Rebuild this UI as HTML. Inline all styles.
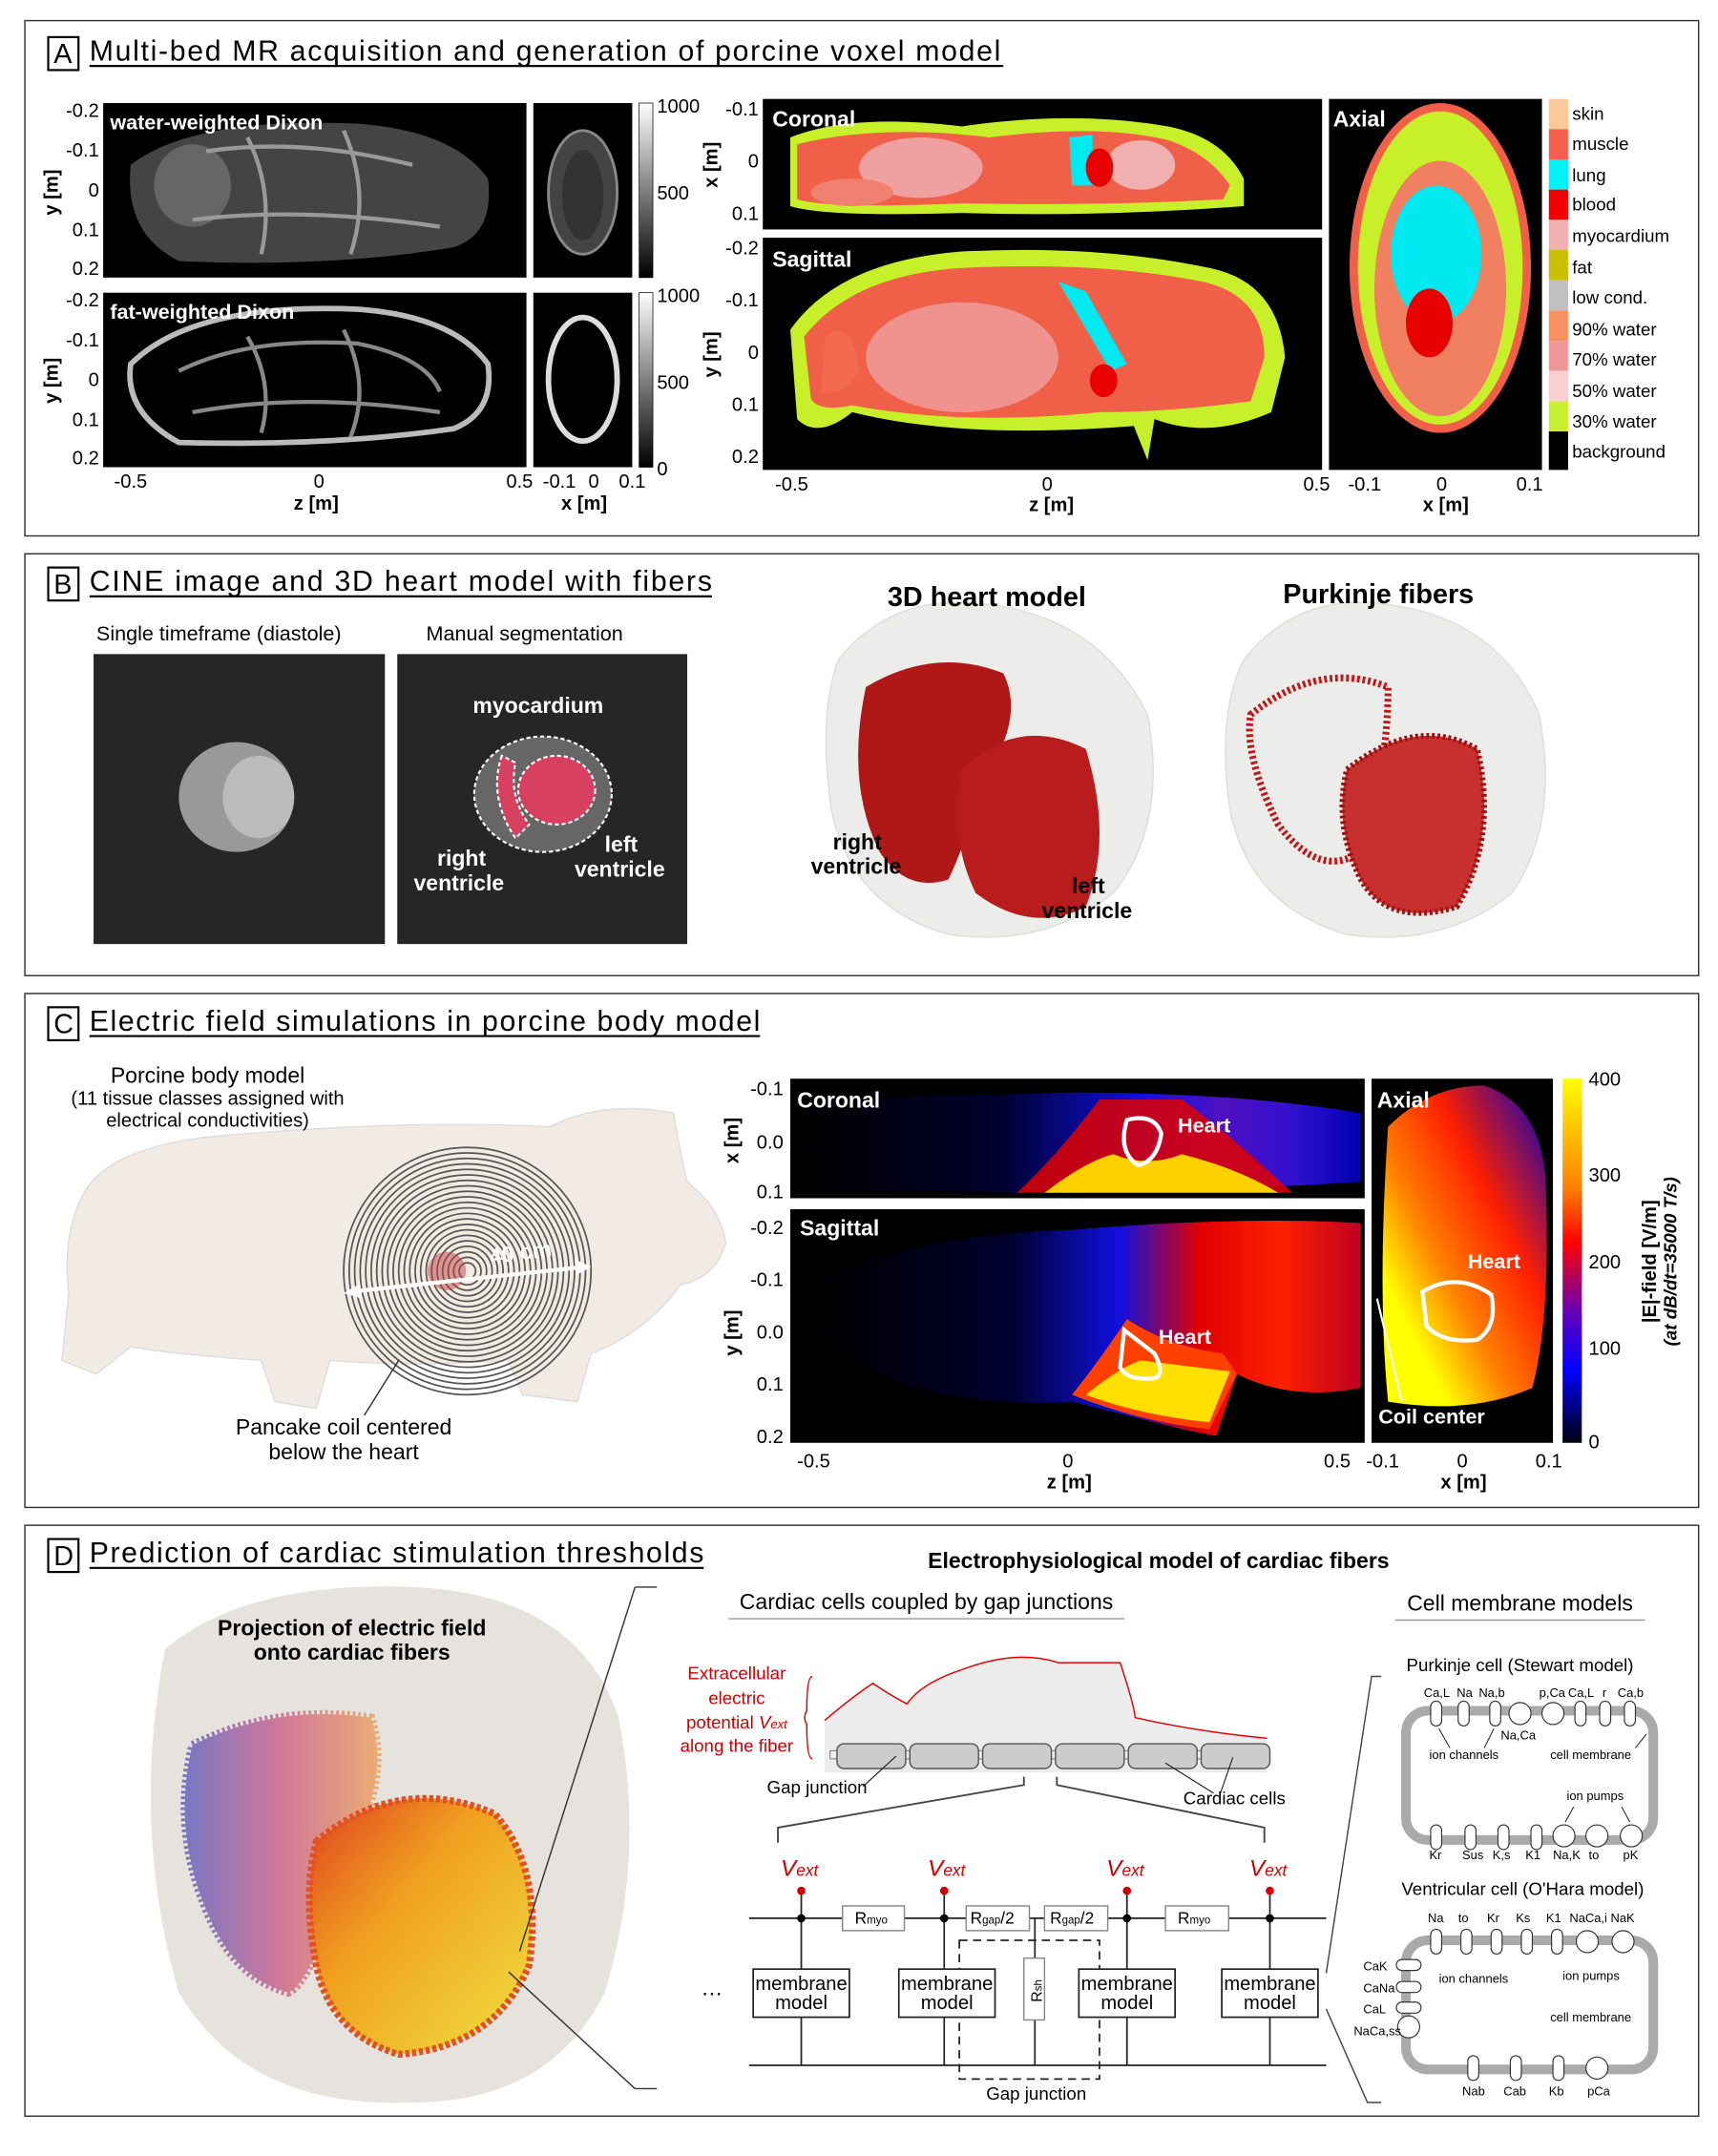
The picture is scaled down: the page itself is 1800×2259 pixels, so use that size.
<!DOCTYPE html>
<html><head><meta charset="utf-8"><style>
html,body{margin:0;padding:0;background:#fff}
svg{display:block}
text{font-family:"Liberation Sans",Arial,sans-serif}
</style></head><body>
<svg width="1800" height="2259" viewBox="0 0 1250 1569" xmlns="http://www.w3.org/2000/svg">
<defs>
<linearGradient id="gs" x1="0" y1="0" x2="0" y2="1"><stop offset="0" stop-color="#fff"/><stop offset="1" stop-color="#000"/></linearGradient>
<linearGradient id="hot" x1="0" y1="0" x2="0" y2="1"><stop offset="0" stop-color="#ffff00"/><stop offset="0.3" stop-color="#ff8000"/><stop offset="0.45" stop-color="#ff0000"/><stop offset="0.65" stop-color="#6000c0"/><stop offset="0.8" stop-color="#0000ff"/><stop offset="1" stop-color="#000010"/></linearGradient>
<linearGradient id="fieldH" x1="0" y1="0" x2="1" y2="0"><stop offset="0" stop-color="#000"/><stop offset="0.35" stop-color="#000030"/><stop offset="0.6" stop-color="#1010e0"/><stop offset="0.75" stop-color="#5010c0"/><stop offset="0.88" stop-color="#3010d0"/><stop offset="1" stop-color="#0000b0"/></linearGradient>
<linearGradient id="fieldS" x1="0" y1="0" x2="1" y2="0"><stop offset="0" stop-color="#000"/><stop offset="0.35" stop-color="#000030"/><stop offset="0.55" stop-color="#1010e0"/><stop offset="0.7" stop-color="#e00000"/><stop offset="0.85" stop-color="#ff2000"/><stop offset="1" stop-color="#c00020"/></linearGradient>
<linearGradient id="ax" x1="1" y1="0" x2="0" y2="1"><stop offset="0" stop-color="#0000c0"/><stop offset="0.35" stop-color="#ff2000"/><stop offset="0.6" stop-color="#ff8000"/><stop offset="0.8" stop-color="#ffff00"/></linearGradient>
<linearGradient id="fibL" x1="0" y1="0" x2="1" y2="0"><stop offset="0" stop-color="#2020b0"/><stop offset="0.5" stop-color="#c02060"/><stop offset="1" stop-color="#f08020"/></linearGradient>
<linearGradient id="fibR" x1="0" y1="0" x2="1" y2="1"><stop offset="0" stop-color="#e04020"/><stop offset="0.4" stop-color="#f0a020"/><stop offset="1" stop-color="#f0e040"/></linearGradient>
</defs>

<g fill="none" stroke="#333" stroke-width="1">
<rect x="18" y="15" width="1218" height="375"/>
<rect x="18" y="403" width="1218" height="307"/>
<rect x="18" y="723" width="1218" height="374"/>
<rect x="18" y="1110" width="1218" height="430"/>
</g>

<!-- ===== A ===== -->
<rect x="35" y="27" width="22" height="24" fill="none" stroke="#000" stroke-width="1.5"/>
<text x="39" y="46" font-size="20">A</text>
<text x="65" y="44" font-size="21" textLength="663">Multi-bed MR acquisition and generation of porcine voxel model</text>
<line x1="65" y1="48" x2="730" y2="48" stroke="#000" stroke-width="1.5"/>

<rect x="75" y="75" width="308" height="127" fill="#000"/>
<path d="M95 120 Q140 85 260 90 Q330 95 355 130 Q360 170 330 180 Q240 195 130 190 Q90 170 95 120 Z" fill="#444"/>
<ellipse cx="140" cy="135" rx="28" ry="30" fill="#666"/>
<path d="M150 110 Q220 100 300 120 M140 160 Q220 150 320 165 M180 100 Q200 140 190 185 M250 95 Q270 140 255 185" stroke="#999" stroke-width="3" fill="none"/>
<rect x="388" y="75" width="72" height="127" fill="#000"/>
<ellipse cx="424" cy="140" rx="25" ry="45" fill="#444" stroke="#888" stroke-width="2"/>
<ellipse cx="424" cy="142" rx="15" ry="33" fill="#333"/>
<rect x="465" y="75" width="10" height="127" fill="url(#gs)" stroke="#000" stroke-width="0.5"/>
<rect x="75" y="213" width="308" height="127" fill="#000"/>
<path d="M95 265 Q140 220 260 225 Q330 230 355 265 Q360 300 330 312 Q240 325 130 322 Q90 300 95 265 Z" fill="none" stroke="#bbb" stroke-width="4"/>
<path d="M130 270 Q180 245 260 250 Q310 260 320 285 M140 300 Q220 285 320 300 M180 245 Q200 280 190 315 M250 240 Q270 280 255 318" stroke="#888" stroke-width="3" fill="none"/>
<rect x="388" y="213" width="72" height="127" fill="#000"/>
<ellipse cx="424" cy="276" rx="25" ry="45" fill="none" stroke="#ddd" stroke-width="4"/>
<rect x="465" y="213" width="10" height="127" fill="url(#gs)" stroke="#000" stroke-width="0.5"/>
<g font-size="15" fill="#fff" font-weight="bold"><text x="80" y="94">water-weighted Dixon</text><text x="80" y="232">fat-weighted Dixon</text></g>
<g font-size="14" text-anchor="end">
<text x="72" y="85">-0.2</text><text x="72" y="114">-0.1</text><text x="72" y="143">0</text><text x="72" y="172">0.1</text><text x="72" y="200">0.2</text>
<text x="72" y="223">-0.2</text><text x="72" y="252">-0.1</text><text x="72" y="281">0</text><text x="72" y="310">0.1</text><text x="72" y="338">0.2</text>
</g>
<g font-size="14"><text x="478" y="82">1000</text><text x="478" y="145">500</text><text x="478" y="220">1000</text><text x="478" y="283">500</text><text x="478" y="346">0</text></g>
<text x="42" y="140" font-size="14" font-weight="bold" transform="rotate(-90 42 140)" text-anchor="middle">y [m]</text>
<text x="42" y="277" font-size="14" font-weight="bold" transform="rotate(-90 42 277)" text-anchor="middle">y [m]</text>
<g font-size="14" text-anchor="middle"><text x="95" y="355">-0.5</text><text x="232" y="355">0</text><text x="378" y="355">0.5</text><text x="407" y="355">-0.1</text><text x="432" y="355">0</text><text x="460" y="355">0.1</text></g>
<g font-size="14" font-weight="bold" text-anchor="middle"><text x="230" y="371">z [m]</text><text x="425" y="371">x [m]</text></g>

<rect x="555" y="72" width="407" height="95" fill="#000"/>
<path d="M575 100 Q620 82 700 92 Q780 80 850 92 Q890 100 905 130 L905 150 Q800 158 700 155 Q600 158 575 150 Z" fill="#c8f02a"/>
<path d="M580 105 Q640 90 720 100 Q800 90 850 102 Q880 112 895 135 L890 145 Q800 150 700 148 Q600 152 580 145 Z" fill="#f06048"/>
<ellipse cx="670" cy="122" rx="45" ry="22" fill="#f0a0a0"/>
<ellipse cx="620" cy="140" rx="30" ry="10" fill="#f08070"/>
<ellipse cx="830" cy="120" rx="25" ry="18" fill="#f0b0b0"/>
<path d="M778 100 L795 98 L795 135 L780 135 Z" fill="#00e8f0"/>
<ellipse cx="800" cy="122" rx="10" ry="14" fill="#e80000"/>
<text x="562" y="92" font-size="16" font-weight="bold" fill="#fff">Coronal</text>
<rect x="555" y="173" width="407" height="169" fill="#000"/>
<path d="M575 240 Q610 190 700 183 Q800 178 880 195 Q930 205 935 260 L925 300 Q880 320 840 305 L835 335 L825 310 Q700 320 620 300 Q595 320 580 305 Z" fill="#c8f02a"/>
<path d="M585 245 Q620 200 700 195 Q800 190 875 205 Q920 215 920 260 L910 292 Q850 300 800 300 Q700 310 620 295 Q595 300 590 290 Z" fill="#f06048"/>
<ellipse cx="700" cy="260" rx="70" ry="40" fill="#f0a0a0" opacity="0.8"/>
<path d="M600 245 Q620 230 625 270 Q615 290 598 285 Z" fill="#f46a50"/>
<path d="M770 205 L790 212 L820 265 L808 270 Z" fill="#00e8f0"/>
<ellipse cx="803" cy="277" rx="10" ry="12" fill="#e80000"/>
<text x="562" y="194" font-size="16" font-weight="bold" fill="#fff">Sagittal</text>
<rect x="967" y="72" width="155" height="270" fill="#000"/>
<ellipse cx="1048" cy="195" rx="66" ry="120" fill="#f06048"/>
<ellipse cx="1048" cy="195" rx="60" ry="114" fill="#c8f02a"/>
<ellipse cx="1048" cy="210" rx="48" ry="93" fill="#f08060"/>
<ellipse cx="1045" cy="185" rx="33" ry="50" fill="#00e8f0"/>
<ellipse cx="1040" cy="235" rx="17" ry="25" fill="#e80000"/>
<text x="970" y="92" font-size="16" font-weight="bold" fill="#fff">Axial</text>
<g font-size="14" text-anchor="end"><text x="552" y="84">-0.1</text><text x="552" y="122">0</text><text x="552" y="160">0.1</text><text x="552" y="185">-0.2</text><text x="552" y="223">-0.1</text><text x="552" y="261">0</text><text x="552" y="299">0.1</text><text x="552" y="337">0.2</text></g>
<text x="522" y="120" font-size="14" font-weight="bold" transform="rotate(-90 522 120)" text-anchor="middle">x [m]</text>
<text x="522" y="258" font-size="14" font-weight="bold" transform="rotate(-90 522 258)" text-anchor="middle">y [m]</text>
<g font-size="14" text-anchor="middle"><text x="576" y="357">-0.5</text><text x="762" y="357">0</text><text x="958" y="357">0.5</text><text x="993" y="357">-0.1</text><text x="1049" y="357">0</text><text x="1113" y="357">0.1</text></g>
<g font-size="14" font-weight="bold" text-anchor="middle"><text x="765" y="372">z [m]</text><text x="1052" y="372">x [m]</text></g>
<g>
<rect x="1127" y="72" width="14" height="22" fill="#fcc898"/><rect x="1127" y="94" width="14" height="22" fill="#f46050"/>
<rect x="1127" y="116" width="14" height="22" fill="#00f0f8"/><rect x="1127" y="138" width="14" height="22" fill="#f00000"/>
<rect x="1127" y="160" width="14" height="22" fill="#f0b0b0"/><rect x="1127" y="182" width="14" height="22" fill="#c8c000"/>
<rect x="1127" y="204" width="14" height="22" fill="#c0c0c0"/><rect x="1127" y="226" width="14" height="22" fill="#f89060"/>
<rect x="1127" y="248" width="14" height="22" fill="#f09898"/><rect x="1127" y="270" width="14" height="22" fill="#f8d0d0"/>
<rect x="1127" y="292" width="14" height="22" fill="#c8f030"/><rect x="1127" y="314" width="14" height="28" fill="#000"/>
</g>
<g font-size="13"><text x="1144" y="87">skin</text><text x="1144" y="109">muscle</text><text x="1144" y="132">lung</text><text x="1144" y="153">blood</text><text x="1144" y="176">myocardium</text><text x="1144" y="199">fat</text><text x="1144" y="221">low cond.</text><text x="1144" y="244">90% water</text><text x="1144" y="266">70% water</text><text x="1144" y="289">50% water</text><text x="1144" y="311">30% water</text><text x="1144" y="333">background</text></g>

<!-- ===== B ===== -->
<rect x="35" y="413" width="22" height="24" fill="none" stroke="#000" stroke-width="1.5"/>
<text x="39" y="432" font-size="20">B</text>
<text x="65" y="430" font-size="21" textLength="453">CINE image and 3D heart model with fibers</text>
<line x1="65" y1="434" x2="518" y2="434" stroke="#000" stroke-width="1.5"/>
<g font-size="15"><text x="70" y="466">Single timeframe (diastole)</text><text x="310" y="466">Manual segmentation</text></g>
<rect x="68" y="476" width="212" height="211" fill="#262626"/>
<ellipse cx="172" cy="580" rx="42" ry="40" fill="#999"/>
<ellipse cx="188" cy="580" rx="26" ry="30" fill="#bbb"/>
<rect x="289" y="476" width="211" height="211" fill="#262626"/>
<ellipse cx="395" cy="578" rx="50" ry="42" fill="#666" stroke="#fff" stroke-width="1.5" stroke-dasharray="3 2"/>
<ellipse cx="405" cy="575" rx="28" ry="25" fill="#d84060" stroke="#fff" stroke-width="1.5" stroke-dasharray="3 2"/>
<path d="M365 550 Q355 580 375 610 L385 600 Q370 580 375 555 Z" fill="#d84060" stroke="#fff" stroke-width="1.5" stroke-dasharray="3 2"/>
<g font-size="16" font-weight="bold" fill="#fff"><text x="344" y="519">myocardium</text><text x="318" y="630">right</text><text x="301" y="648">ventricle</text><text x="440" y="620">left</text><text x="418" y="638">ventricle</text></g>
<path d="M610 480 Q650 430 720 440 Q800 450 835 520 Q850 600 810 650 Q760 690 690 680 Q620 660 605 590 Q595 520 610 480 Z" fill="#ececea" stroke="#ddd"/>
<path d="M630 500 Q680 470 730 490 Q745 520 720 560 Q700 620 690 640 Q660 650 640 620 Q615 570 630 500 Z" fill="#b01818"/>
<path d="M700 560 Q740 520 790 545 Q810 610 790 660 Q750 680 710 650 Q690 610 700 560 Z" fill="#b81c1c"/>
<g font-size="16" font-weight="bold"><text x="606" y="618">right</text><text x="590" y="636">ventricle</text><text x="780" y="650">left</text><text x="758" y="668">ventricle</text></g>
<text x="718" y="441" font-size="20" font-weight="bold" text-anchor="middle">3D heart model</text>
<path d="M905 480 Q945 430 1010 440 Q1090 450 1120 520 Q1135 600 1100 650 Q1050 690 980 680 Q910 660 895 590 Q885 520 905 480 Z" fill="#ececea" stroke="#ddd"/>
<path d="M910 520 Q960 480 1010 500 Q1010 560 990 620 Q960 640 930 600 Q905 550 910 520 Z" fill="none" stroke="#c01818" stroke-width="5" stroke-dasharray="2 2"/>
<path d="M980 560 Q1030 520 1075 545 Q1090 610 1060 660 Q1010 675 990 640 Q970 600 980 560 Z" fill="#c83030" stroke="#a01010" stroke-width="4" stroke-dasharray="2 2"/>
<text x="1003" y="439" font-size="20" font-weight="bold" text-anchor="middle">Purkinje fibers</text>

<!-- ===== C ===== -->
<rect x="35" y="733" width="22" height="24" fill="none" stroke="#000" stroke-width="1.5"/>
<text x="39" y="752" font-size="20">C</text>
<text x="65" y="750" font-size="21" textLength="488">Electric field simulations in porcine body model</text>
<line x1="65" y1="754" x2="553" y2="754" stroke="#000" stroke-width="1.5"/>
<path d="M60 870 Q80 830 180 825 Q300 815 400 820 Q440 800 490 810 Q495 840 500 860 Q525 880 528 905 Q520 930 495 935 Q470 970 430 985 L420 1020 L380 1015 L370 990 Q300 995 240 990 L230 1025 L200 1020 L190 990 Q120 985 95 980 L70 1000 L45 990 L50 940 Q45 900 60 870 Z" fill="#f2ebe4" stroke="#ddd"/>
<g font-size="16" text-anchor="middle"><text x="151" y="788">Porcine body model</text></g>
<g font-size="14" text-anchor="middle"><text x="151" y="804">(11 tissue classes assigned with</text><text x="151" y="820">electrical conductivities)</text></g>
<g fill="none" stroke="#555" stroke-width="1.2">
<circle cx="340" cy="925" r="90"/><circle cx="340" cy="925" r="86"/><circle cx="340" cy="925" r="82"/><circle cx="340" cy="925" r="78"/><circle cx="340" cy="925" r="74"/><circle cx="340" cy="925" r="70"/><circle cx="340" cy="925" r="66"/><circle cx="340" cy="925" r="62"/><circle cx="340" cy="925" r="58"/><circle cx="340" cy="925" r="54"/><circle cx="340" cy="925" r="50"/><circle cx="340" cy="925" r="46"/><circle cx="340" cy="925" r="42"/><circle cx="340" cy="925" r="38"/><circle cx="340" cy="925" r="34"/><circle cx="340" cy="925" r="30"/><circle cx="340" cy="925" r="26"/><circle cx="340" cy="925" r="22"/><circle cx="340" cy="925" r="18"/><circle cx="340" cy="925" r="14"/><circle cx="340" cy="925" r="10"/><circle cx="340" cy="925" r="6"/>
</g>
<ellipse cx="325" cy="925" rx="14" ry="14" fill="#c04040" opacity="0.5"/>
<line x1="255" y1="940" x2="425" y2="922" stroke="#fff" stroke-width="3"/>
<path d="M250 941 L262 934 L263 945 Z M430 922 L418 916 L419 928 Z" fill="#fff"/>
<text x="357" y="920" font-size="16" font-weight="bold" fill="#fff" transform="rotate(-8 357 920)">40 cm</text>
<line x1="290" y1="990" x2="265" y2="1030" stroke="#333"/>
<g font-size="16" text-anchor="middle"><text x="250" y="1044">Pancake coil centered</text><text x="250" y="1062">below the heart</text></g>

<rect x="575" y="785" width="418" height="87" fill="#000"/>
<path d="M590 800 L780 795 Q900 795 990 810 L990 860 Q900 866 780 868 L600 866 Z" fill="url(#fieldH)"/>
<path d="M740 868 Q770 840 800 800 L860 800 Q900 830 940 868 Z" fill="#e00000" opacity="0.85"/>
<path d="M760 868 Q790 845 810 840 Q835 850 860 840 Q900 850 930 868 Z" fill="#ffd000"/>
<path d="M820 815 Q840 810 845 825 Q842 845 828 848 Q813 838 820 815 Z" fill="none" stroke="#fff" stroke-width="3"/>
<text x="580" y="806" font-size="16" font-weight="bold" fill="#fff">Coronal</text>
<text x="857" y="824" font-size="15" font-weight="bold" fill="#fff">Heart</text>
<rect x="575" y="880" width="418" height="170" fill="#000"/>
<path d="M600 935 Q650 900 780 895 Q900 885 990 890 L990 1010 Q940 1020 900 1000 L885 1045 L860 1040 Q820 1030 780 1020 Q700 1025 640 1000 Q600 985 600 935 Z" fill="url(#fieldS)"/>
<path d="M780 1015 Q800 990 820 960 Q850 980 890 985 L900 1000 L880 1040 Q830 1035 780 1015 Z" fill="#ff4000"/>
<path d="M790 1015 Q815 995 830 990 Q870 995 895 998 L880 1035 Q830 1030 790 1015 Z" fill="#ffe000"/>
<path d="M818 968 L840 985 Q848 1000 840 1003 Q820 1005 815 995 Z" fill="none" stroke="#fff" stroke-width="3"/>
<text x="582" y="899" font-size="16" font-weight="bold" fill="#fff">Sagittal</text>
<text x="843" y="978" font-size="15" font-weight="bold" fill="#fff">Heart</text>
<rect x="998" y="785" width="132" height="265" fill="#000"/>
<path d="M1010 820 Q1040 790 1080 790 Q1125 805 1125 870 Q1128 960 1115 1010 Q1070 1030 1010 1020 Q1002 940 1010 820 Z" fill="url(#ax)"/>
<path d="M1035 940 Q1060 925 1085 942 Q1090 965 1075 975 Q1050 978 1038 965 Z" fill="none" stroke="#fff" stroke-width="3"/>
<text x="1002" y="806" font-size="16" font-weight="bold" fill="#fff">Axial</text>
<text x="1068" y="923" font-size="15" font-weight="bold" fill="#fff">Heart</text>
<line x1="1020" y1="1020" x2="1002" y2="945" stroke="#fff" stroke-width="1.5"/>
<text x="1003" y="1036" font-size="15" font-weight="bold" fill="#fff">Coil center</text>
<rect x="1137" y="785" width="14" height="265" fill="url(#hot)"/>
<g font-size="14"><text x="1156" y="790">400</text><text x="1156" y="860">300</text><text x="1156" y="923">200</text><text x="1156" y="986">100</text><text x="1156" y="1054">0</text></g>
<text x="1205" y="918" font-size="14" font-weight="bold" transform="rotate(-90 1205 918)" text-anchor="middle">|E|-field [V/m]</text>
<text x="1220" y="918" font-size="13" font-weight="bold" font-style="italic" transform="rotate(-90 1220 918)" text-anchor="middle">(at dB/dt=35000 T/s)</text>
<g font-size="14" text-anchor="end"><text x="570" y="797">-0.1</text><text x="570" y="836">0.0</text><text x="570" y="872">0.1</text><text x="570" y="898">-0.2</text><text x="570" y="936">-0.1</text><text x="570" y="974">0.0</text><text x="570" y="1012">0.1</text><text x="570" y="1050">0.2</text></g>
<text x="537" y="830" font-size="14" font-weight="bold" transform="rotate(-90 537 830)" text-anchor="middle">x [m]</text>
<text x="537" y="970" font-size="14" font-weight="bold" transform="rotate(-90 537 970)" text-anchor="middle">y [m]</text>
<g font-size="14" text-anchor="middle"><text x="592" y="1068">-0.5</text><text x="777" y="1068">0</text><text x="973" y="1068">0.5</text><text x="1006" y="1068">-0.1</text><text x="1064" y="1068">0</text><text x="1127" y="1068">0.1</text></g>
<g font-size="14" font-weight="bold" text-anchor="middle"><text x="778" y="1083">z [m]</text><text x="1065" y="1083">x [m]</text></g>

<!-- ===== D ===== -->
<rect x="35" y="1120" width="22" height="24" fill="none" stroke="#000" stroke-width="1.5"/>
<text x="39" y="1139" font-size="20">D</text>
<text x="65" y="1137" font-size="21" textLength="447">Prediction of cardiac stimulation thresholds</text>
<line x1="65" y1="1141" x2="512" y2="1141" stroke="#000" stroke-width="1.5"/>
<path d="M120 1200 Q180 1150 300 1155 Q420 1160 450 1250 Q470 1350 440 1450 Q400 1530 300 1530 Q180 1535 130 1450 Q95 1330 120 1200 Z" fill="#e6e3de"/>
<path d="M140 1270 Q200 1240 270 1250 Q285 1300 250 1350 Q230 1440 210 1450 Q170 1440 150 1390 Q125 1330 140 1270 Z" fill="url(#fibL)" opacity="0.55" stroke="url(#fibL)" stroke-width="6" stroke-dasharray="2 2"/>
<path d="M230 1340 Q290 1290 360 1320 Q395 1360 385 1430 Q360 1490 290 1495 Q240 1480 230 1430 Q220 1380 230 1340 Z" fill="url(#fibR)" stroke="#e05020" stroke-width="5" stroke-dasharray="3 2"/>
<g font-size="16" font-weight="bold" text-anchor="middle"><text x="256" y="1190">Projection of electric field</text><text x="256" y="1208">onto cardiac fibers</text></g>
<g stroke="#333" stroke-width="1"><line x1="378" y1="1420" x2="462" y2="1155"/><line x1="370" y1="1435" x2="462" y2="1520"/><line x1="462" y1="1155" x2="478" y2="1155"/><line x1="462" y1="1520" x2="478" y2="1520"/></g>
<text x="843" y="1141" font-size="16" font-weight="bold" text-anchor="middle">Electrophysiological model of cardiac fibers</text>
<text x="674" y="1171" font-size="16" text-anchor="middle">Cardiac cells coupled by gap junctions</text>
<line x1="530" y1="1178" x2="818" y2="1178" stroke="#999"/>
<text x="1106" y="1172" font-size="16" text-anchor="middle">Cell membrane models</text>
<line x1="1015" y1="1179" x2="1197" y2="1179" stroke="#999"/>
<g font-size="13" fill="#d00000" text-anchor="middle"><text x="536" y="1222">Extracellular</text><text x="536" y="1240">electric</text><text x="536" y="1258">potential <tspan font-style="italic">V</tspan><tspan font-style="italic" font-size="9">ext</tspan></text><text x="536" y="1275">along the fiber</text></g>
<path d="M591 1220 Q587 1220 587 1245 Q584 1250 587 1255 Q587 1280 591 1280" fill="none" stroke="#d00000"/>
<path d="M600 1270 L600 1252 Q620 1235 635 1225 Q650 1235 660 1240 Q670 1225 700 1215 Q740 1200 770 1210 L815 1210 Q825 1240 826 1250 Q870 1260 922 1265 L922 1290 L600 1290 Z" fill="#ececec"/>
<path d="M600 1252 Q620 1235 635 1225 Q650 1235 660 1240 Q670 1225 700 1215 Q740 1200 770 1210 L815 1210 Q825 1240 826 1250 Q870 1260 922 1265" fill="none" stroke="#e00000" stroke-width="1"/>
<rect x="604" y="1274" width="320" height="6" fill="#eee" stroke="#666" stroke-width="0.6"/>
<g fill="#ccc" stroke="#555" stroke-width="1">
<rect x="609" y="1269" width="50" height="18" rx="5"/><rect x="662" y="1269" width="50" height="18" rx="5"/><rect x="715" y="1269" width="50" height="18" rx="5"/><rect x="768" y="1269" width="50" height="18" rx="5"/><rect x="821" y="1269" width="50" height="18" rx="5"/><rect x="874" y="1269" width="50" height="18" rx="5"/>
</g>
<g stroke="#222" stroke-width="0.8"><line x1="628" y1="1300" x2="652" y2="1278"/><line x1="883" y1="1305" x2="848" y2="1283"/><line x1="888" y1="1305" x2="897" y2="1279"/></g>
<g font-size="13"><text x="558" y="1305">Gap junction</text><text x="861" y="1313">Cardiac cells</text></g>
<g fill="none" stroke="#444" stroke-width="1.3"><path d="M745 1293 L745 1299 L566 1330 L566 1341"/><path d="M769 1293 L769 1299 L920 1330 L920 1341"/></g>
<g stroke="#222" stroke-width="1.2" fill="none">
<line x1="545" y1="1396" x2="965" y2="1396"/>
<line x1="545" y1="1503" x2="965" y2="1503"/>
<line x1="583" y1="1376" x2="583" y2="1503"/><line x1="687" y1="1376" x2="687" y2="1503"/><line x1="820" y1="1376" x2="820" y2="1503"/><line x1="924" y1="1376" x2="924" y2="1503"/>
<line x1="753" y1="1396" x2="753" y2="1503"/>
</g>
<g fill="#fff" stroke="#888" stroke-width="1">
<rect x="613" y="1387" width="45" height="18"/><rect x="703" y="1387" width="46" height="18"/><rect x="760" y="1387" width="46" height="18"/><rect x="848" y="1387" width="46" height="18"/>
<rect x="745" y="1425" width="15" height="45"/>
</g>
<rect x="698" y="1412" width="102" height="101" fill="none" stroke="#222" stroke-width="1.2" stroke-dasharray="6 4"/>
<g fill="#fff" stroke="#222" stroke-width="1.2">
<rect x="548" y="1433" width="70" height="35"/><rect x="654" y="1433" width="70" height="35"/><rect x="785" y="1433" width="70" height="35"/><rect x="889" y="1433" width="70" height="35"/>
</g>
<g fill="#d00000"><circle cx="583" cy="1376" r="3"/><circle cx="687" cy="1376" r="3"/><circle cx="820" cy="1376" r="3"/><circle cx="924" cy="1376" r="3"/></g>
<g fill="#000"><circle cx="583" cy="1396" r="3"/><circle cx="687" cy="1396" r="3"/><circle cx="820" cy="1396" r="3"/><circle cx="924" cy="1396" r="3"/></g>
<g font-size="17" font-style="italic" fill="#d00000"><text x="568" y="1365">V<tspan font-size="12">ext</tspan></text><text x="675" y="1365">V<tspan font-size="12">ext</tspan></text><text x="805" y="1365">V<tspan font-size="12">ext</tspan></text><text x="909" y="1365">V<tspan font-size="12">ext</tspan></text></g>
<g font-size="12"><text x="622" y="1400">R<tspan font-size="8">myo</tspan></text><text x="857" y="1400">R<tspan font-size="8">myo</tspan></text><text x="706" y="1400">R<tspan font-size="8">gap</tspan>/2</text><text x="764" y="1400">R<tspan font-size="8">gap</tspan>/2</text></g>
<text x="758" y="1457" font-size="11" transform="rotate(-90 758 1457)">R<tspan font-size="8">sh</tspan></text>
<g font-size="14" text-anchor="middle"><text x="583" y="1448">membrane</text><text x="583" y="1462">model</text><text x="689" y="1448">membrane</text><text x="689" y="1462">model</text><text x="820" y="1448">membrane</text><text x="820" y="1462">model</text><text x="924" y="1448">membrane</text><text x="924" y="1462">model</text></g>
<text x="510" y="1452" font-size="16">…</text>
<text x="754" y="1528" font-size="13" text-anchor="middle">Gap junction</text>
<g fill="none" stroke="#444" stroke-width="1"><path d="M1005 1220 L998 1220 L965 1436"/><path d="M965 1462 L995 1530 L1005 1530"/></g>
<text x="1106" y="1216" font-size="13" text-anchor="middle">Purkinje cell (Stewart model)</text>
<rect x="1023" y="1245" width="180" height="94" rx="16" fill="none" stroke="#aaa" stroke-width="7"/>
<g fill="#fff" stroke="#333" stroke-width="0.8">
<rect x="1041" y="1238" width="8" height="18" rx="4"/><rect x="1061" y="1238" width="8" height="18" rx="4"/><rect x="1084" y="1238" width="8" height="18" rx="4"/><circle cx="1106" cy="1247" r="8"/><circle cx="1130" cy="1247" r="8"/><rect x="1146" y="1238" width="8" height="18" rx="4"/><rect x="1164" y="1238" width="8" height="18" rx="4"/><rect x="1182" y="1238" width="8" height="18" rx="4"/>
<rect x="1041" y="1328" width="8" height="18" rx="4"/><rect x="1066" y="1328" width="8" height="18" rx="4"/><rect x="1090" y="1328" width="8" height="18" rx="4"/><rect x="1114" y="1328" width="8" height="18" rx="4"/><circle cx="1138" cy="1336" r="8"/><circle cx="1162" cy="1336" r="8"/><circle cx="1187" cy="1336" r="8"/>
</g>
<g stroke="#222" stroke-width="0.7"><line x1="1055" y1="1272" x2="1047" y2="1258"/><line x1="1080" y1="1272" x2="1087" y2="1258"/><line x1="1190" y1="1272" x2="1198" y2="1262"/><line x1="1145" y1="1315" x2="1139" y2="1326"/><line x1="1180" y1="1315" x2="1186" y2="1326"/></g>
<g font-size="9"><text x="1036" y="1235">Ca,L</text><text x="1060" y="1235">Na</text><text x="1076" y="1235">Na,b</text><text x="1120" y="1235">p,Ca</text><text x="1141" y="1235">Ca,L</text><text x="1166" y="1235">r</text><text x="1177" y="1235">Ca,b</text><text x="1092" y="1266">Na,Ca</text>
<text x="1040" y="1280">ion channels</text><text x="1128" y="1280">cell membrane</text><text x="1140" y="1310">ion pumps</text>
<text x="1040" y="1353">Kr</text><text x="1064" y="1353">Sus</text><text x="1086" y="1353">K,s</text><text x="1110" y="1353">K1</text><text x="1130" y="1353">Na,K</text><text x="1156" y="1353">to</text><text x="1181" y="1353">pK</text></g>
<text x="1108" y="1379" font-size="13" text-anchor="middle">Ventricular cell (O'Hara model)</text>
<rect x="1023" y="1412" width="180" height="94" rx="16" fill="none" stroke="#aaa" stroke-width="7"/>
<g fill="#fff" stroke="#333" stroke-width="0.8">
<rect x="1041" y="1404" width="8" height="18" rx="4"/><rect x="1063" y="1404" width="8" height="18" rx="4"/><rect x="1085" y="1404" width="8" height="18" rx="4"/><rect x="1107" y="1404" width="8" height="18" rx="4"/><rect x="1129" y="1404" width="8" height="18" rx="4"/><circle cx="1155" cy="1413" r="8"/><circle cx="1181" cy="1413" r="8"/>
<rect x="1016" y="1426" width="18" height="8" rx="4"/><rect x="1016" y="1442" width="18" height="8" rx="4"/><rect x="1016" y="1457" width="18" height="8" rx="4"/><circle cx="1025" cy="1475" r="8"/>
<rect x="1068" y="1496" width="8" height="18" rx="4"/><rect x="1099" y="1496" width="8" height="18" rx="4"/><rect x="1130" y="1496" width="8" height="18" rx="4"/><circle cx="1162" cy="1505" r="8"/>
</g>
<g font-size="9"><text x="1039" y="1399">Na</text><text x="1061" y="1399">to</text><text x="1082" y="1399">Kr</text><text x="1103" y="1399">Ks</text><text x="1125" y="1399">K1</text><text x="1142" y="1399">NaCa,i NaK</text>
<text x="992" y="1434">CaK</text><text x="992" y="1450">CaNa</text><text x="992" y="1465">CaL</text><text x="985" y="1481">NaCa,ss</text>
<text x="1047" y="1443">ion channels</text><text x="1137" y="1441">ion pumps</text><text x="1128" y="1471">cell membrane</text>
<text x="1064" y="1525">Nab</text><text x="1094" y="1525">Cab</text><text x="1127" y="1525">Kb</text><text x="1155" y="1525">pCa</text></g>
</svg>
</body></html>
